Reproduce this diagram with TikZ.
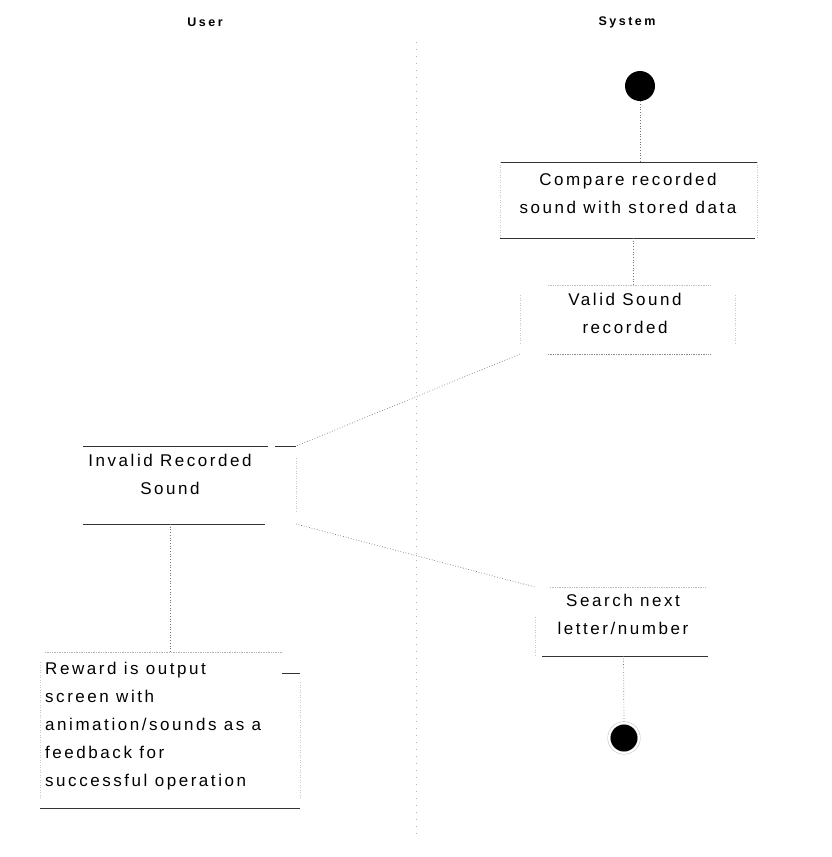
\documentclass[tikz,border=0pt]{standalone}
\usepackage{fontspec}
\setmainfont{Liberation Sans}
\newfontfamily\actfont{Liberation Sans}[LetterSpace=15]
\newfontfamily\lanefont{Liberation Sans}[LetterSpace=20]
\begin{document}
\begin{tikzpicture}[x=1pt,y=-1pt,
  lanehead/.style={font=\lanefont\bfseries\fontsize{12.5}{14}\selectfont, inner sep=0pt},
  acttext/.style={font=\actfont\fontsize{17}{28}\selectfont, align=center, inner sep=0pt},
  actbox/.style={rectangle, inner sep=0pt, outer sep=0pt, draw=none},
  rim/.style={draw=black!80, line width=0.8pt},
  softrim/.style={draw=black!45, line width=0.7pt, densely dotted},
  side/.style={draw=black!22, line width=0.5pt, dotted},
  flow/.style={draw=black!55, line width=0.7pt, dotted},
  lane/.style={draw=black!30, line width=0.6pt, dash pattern=on 1pt off 6pt},
  startdot/.style={circle, fill=black, draw=none, minimum size=30pt, inner sep=0pt},
  enddot/.style={circle, fill=black, draw=black!25, double=white, double distance=2pt, line width=0.5pt, minimum size=30pt, inner sep=0pt}
]
\useasboundingbox (0,0) rectangle (832,857);

% swimlane headers and divider
\node[lanehead] (user) at (205,22) {User};
\node[lanehead] (system) at (627,22) {System};
\draw[lane] (416,42) -- (416,840);

% initial and final nodes
\node[startdot] (start) at (640,86) {};
\node[enddot] (finish) at (624,738) {};

% activity frames
\node[actbox, minimum width=257pt, minimum height=76pt] (compare) at (628.5,200) {};
\node[actbox, minimum width=215pt, minimum height=69pt] (valid) at (627.5,319.5) {};
\node[actbox, minimum width=213pt, minimum height=78pt] (invalid) at (189.5,485) {};
\node[actbox, minimum width=177pt, minimum height=69pt] (search) at (623.5,621.5) {};
\node[actbox, minimum width=260pt, minimum height=156pt] (reward) at (170,730) {};

% compare
\draw[rim] (compare.north west) -- (compare.north east);
\draw[rim] (compare.south west) -- ([xshift=-2pt]compare.south east);
\draw[side] (compare.north west) -- (compare.south west);
\draw[side] (compare.north east) -- (compare.south east);

% valid sound
\draw[softrim, draw=black!25] ([xshift=28pt]valid.north west) -- ([xshift=-25pt]valid.north east);
\draw[softrim] ([xshift=28pt]valid.south west) -- ([xshift=-25pt]valid.south east);
\draw[side] ([yshift=-10pt]valid.north west) -- ([yshift=10pt]valid.south west);
\draw[side] ([yshift=-10pt]valid.north east) -- ([yshift=10pt]valid.south east);

% invalid sound
\draw[rim] (invalid.north west) -- ([xshift=-28pt]invalid.north east);
\draw[rim] ([xshift=-21pt]invalid.north east) -- (invalid.north east);
\draw[rim] (invalid.south west) -- ([xshift=-31pt]invalid.south east);
\draw[side] ([yshift=-12pt]invalid.north east) -- ([yshift=12pt]invalid.south east);

% search next
\draw[softrim, draw=black!25] ([xshift=15pt]search.north west) -- ([xshift=-7pt]search.north east);
\draw[rim] ([xshift=7pt]search.south west) -- ([xshift=-4pt]search.south east);
\draw[side] ([yshift=-30pt]search.north west) -- (search.south west);

% reward
\draw[softrim, draw=black!30] ([xshift=5pt]reward.north west) -- ([xshift=-17pt]reward.north east);
\draw[rim] ([xshift=-18pt,yshift=-21pt]reward.north east) -- ([yshift=-21pt]reward.north east);
\draw[rim] (reward.south west) -- (reward.south east);
\draw[side] ([yshift=-30pt]reward.north east) -- ([yshift=10pt]reward.south east);
\draw[side] ([yshift=-10pt]reward.north west) -- ([yshift=10pt]reward.south west);

% activity labels
\node[acttext] (compare-t) at (628,193) {Compare recorded\\sound with stored data};
\node[acttext] (valid-t) at (625,313) {Valid Sound\\recorded};
\node[acttext] (invalid-t) at (170,474) {Invalid Recorded\\Sound};
\node[acttext] (search-t) at (623,614) {Search next\\letter/number};
\node[acttext, align=left, anchor=west] (reward-t) at (45,726)
  {Reward is output\\screen with\\animation/sounds as a\\feedback for\\successful operation};

% control flow
\draw[flow] (start.south) -- (start.south |- compare.north);
\draw[flow] ([xshift=4.5pt]compare.south) -- ([xshift=4.5pt]compare.south |- valid.north);
\draw[flow] (valid.south west) -- (invalid.north east);
\draw[flow] (invalid.south east) -- (search.north west);
\draw[flow] (search.south) -- (finish.north);
\draw[flow] (invalid.south -| invalid-t.south) -- (invalid-t.south |- reward.north);
\end{tikzpicture}
\end{document}
